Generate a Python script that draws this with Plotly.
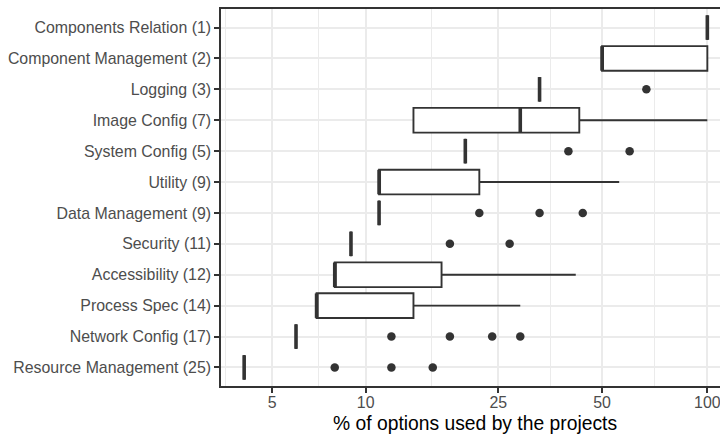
import numpy as np
import plotly.graph_objects as go

# ---- data (values are % of options used) ----
categories = ["Resource Management (25)", "Network Config (17)", "Process Spec (14)",
              "Accessibility (12)", "Security (11)", "Data Management (9)", "Utility (9)",
              "System Config (5)", "Image Config (7)", "Logging (3)",
              "Component Management (2)", "Components Relation (1)"]
q1 =     [4, 6, 7, 8, 9, 11, 11, 20, 14, 33, 50, 100]
median = [4, 6, 7, 8, 9, 11, 11, 20, 29, 33, 50, 100]
q3 =     [4, 6, 14, 17, 9, 11, 22, 20, 43, 33, 100, 100]
lower =  [4, 6, 7, 8, 9, 11, 11, 20, 14, 33, 50, 100]
upper =  [4, 6, 29, 42, 9, 11, 56, 20, 100, 33, 100, 100]

outlier_cats = (["Resource Management (25)"] * 3 + ["Network Config (17)"] * 4 +
                ["Data Management (9)"] * 3 + ["Security (11)"] * 2 +
                ["System Config (5)"] * 2 + ["Logging (3)"])
outlier_vals = [8, 12, 16, 12, 18, 24, 29, 22, 33, 44, 18, 27, 40, 60, 67]

tick_vals = [5, 10, 25, 50, 100]
x_title = "% of options used by the projects"


def tr(v):
    """log10(x + 1) transform used by the x scale"""
    return np.log10(np.asarray(v, dtype=float) + 1.0)


# ---- geometry ----
W, H = 720, 440
L, T, B = 221, 9, 386
R = W
dark = "#333333"
grid = "#EBEBEB"
font_fam = "Liberation Sans, Arial, Helvetica, sans-serif"

all_vals = np.concatenate([tr(lower), tr(upper), tr(outlier_vals)])
tmin, tmax = all_vals.min(), all_vals.max()
span = tmax - tmin
lo = tmin - 0.05 * span
hi = tmax + 0.05 * span
full_w = 509.5  # full ggplot panel width (cropped at figure edge)
vis_hi = lo + (hi - lo) * (R - L) / full_w

tv = tr(tick_vals)
bd = tv[1] - tv[0]
ext = np.concatenate([[tv[0] - bd], tv])
minor_vals = list((ext[:-1] + ext[1:]) / 2)

fig = go.Figure()

fig.add_trace(go.Box(
    y=categories, q1=tr(q1), median=tr(median), q3=tr(q3),
    lowerfence=tr(lower), upperfence=tr(upper),
    orientation="h", width=0.8, whiskerwidth=0,
    fillcolor="white", line=dict(color=dark, width=1.9),
    boxpoints=False, hoverinfo="skip", showlegend=False,
))

# thicker median lines (ggplot fatten)
fig.add_trace(go.Scatter(
    x=tr(median), y=categories, mode="markers",
    marker=dict(symbol="line-ns", size=24.5 / 1.4,
                line=dict(color=dark, width=3.6)),
    hoverinfo="skip", showlegend=False,
))

# outliers
fig.add_trace(go.Scatter(
    x=tr(outlier_vals), y=outlier_cats, mode="markers",
    marker=dict(symbol="circle", size=8.5, color=dark, line=dict(width=0)),
    hoverinfo="skip", showlegend=False,
))

fig.update_layout(
    width=W, height=H,
    margin=dict(l=L, r=W - R, t=T, b=H - B, pad=0),
    paper_bgcolor="white", plot_bgcolor="white",
    font=dict(family=font_fam, color="#4D4D4D"),
    showlegend=False,
    xaxis=dict(
        range=[lo, vis_hi], tickmode="array", tickvals=list(tv),
        ticktext=[str(v) for v in tick_vals],
        showgrid=True, gridcolor=grid, gridwidth=1.9, zeroline=False,
        minor=dict(tickvals=minor_vals, showgrid=True, gridcolor=grid,
                   gridwidth=0.95, ticklen=0),
        showline=True, linecolor=dark, linewidth=1.9, mirror=True,
        ticks="outside", ticklen=4.8, tickwidth=1.9, tickcolor=dark,
        tickfont=dict(size=15.9, color="#4D4D4D", family=font_fam),
        ticklabeloverflow="allow", ticklabelstandoff=-4,
        automargin=False, fixedrange=True, layer="below traces",
    ),
    yaxis=dict(
        type="category", categoryorder="array", categoryarray=categories,
        range=[-0.6, len(categories) - 1 + 0.6],
        showgrid=True, gridcolor=grid, gridwidth=1.9, zeroline=False,
        showline=True, linecolor=dark, linewidth=1.9, mirror=False,
        ticks="outside", ticklen=4.8, tickwidth=1.9, tickcolor=dark,
        tickfont=dict(size=15.9, color="#4D4D4D", family=font_fam),
        automargin=False, fixedrange=True,
    ),
    annotations=[dict(
        text=x_title, xref="paper", yref="paper",
        x=(475 - L) / (R - L), y=(B - 423) / (B - T),
        xanchor="center", yanchor="middle", showarrow=False,
        font=dict(size=19.3, color="black", family=font_fam),
    )],
)

fig.write_html("out.html")
